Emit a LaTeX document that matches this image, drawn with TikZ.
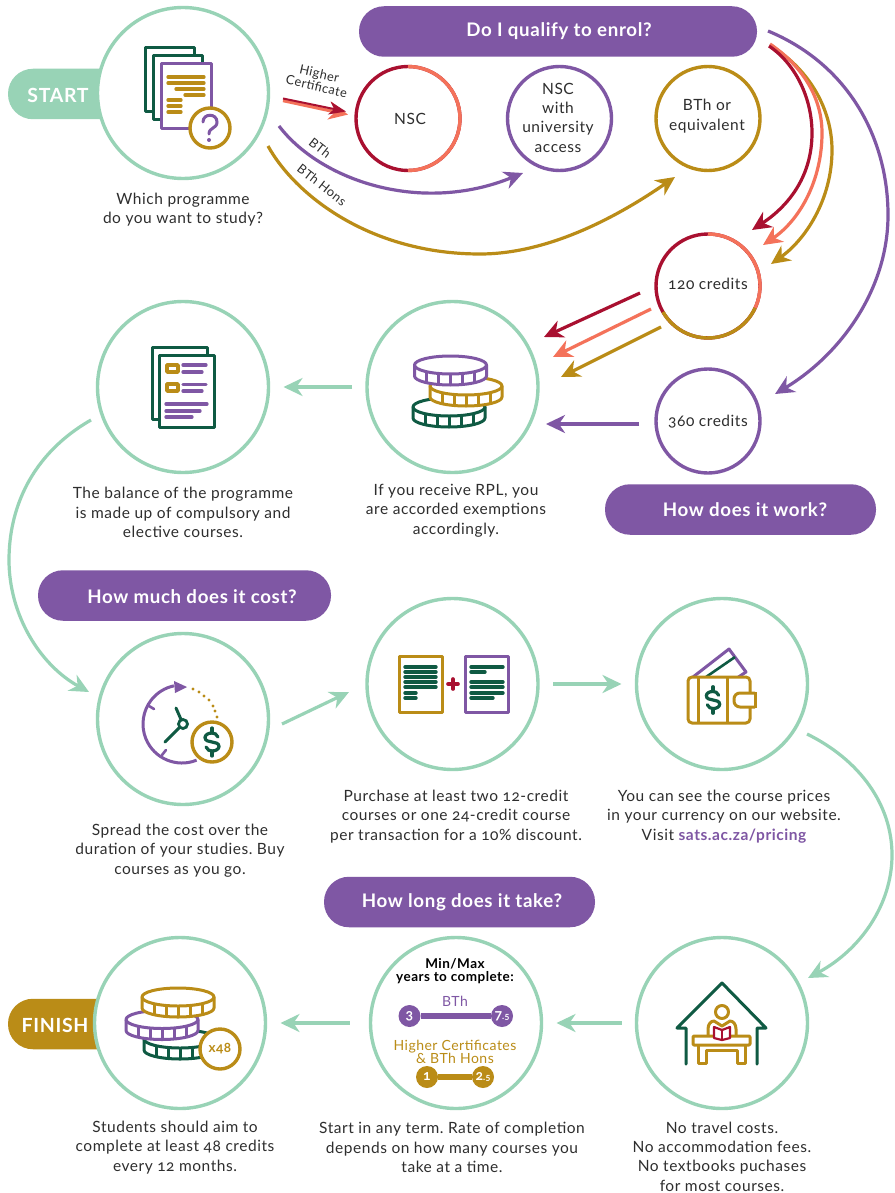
\documentclass[tikz,border=0pt]{standalone}
\usepackage{fontspec}
\setmainfont{Lato}[Numbers=OldStyle,LetterSpace=3.5]
\usetikzlibrary{arrows.meta,calc}
\definecolor{mint}{HTML}{98D3B6}
\definecolor{crimsonc}{HTML}{A91030}
\definecolor{coralc}{HTML}{F4725A}
\definecolor{goldc}{HTML}{BA8C17}
\definecolor{purplec}{HTML}{7F57A4}
\definecolor{greenc}{HTML}{0F5A43}
\definecolor{inkc}{HTML}{2E2E2E}
\newcommand{\fsz}[2]{\fontsize{#1}{#2}\selectfont}
\newcommand{\mycoin}[4]{% cx, cy, colour, rx
  \begin{scope}[shift={(#1,#2)},draw=#3,line width=3pt,line join=round]
    \filldraw[fill=white] (-#4,0) -- (-#4,11) arc[x radius=#4,y radius=9,start angle=180,end angle=0] -- (#4,0) arc[x radius=#4,y radius=9,start angle=0,end angle=-180] -- cycle;
    \draw (-#4,0) arc[x radius=#4,y radius=9,start angle=180,end angle=0];
    \foreach \tx/\ty in {-24/6.5,-12/8.5,0/9,12/8.5,24/6.5}{\draw (\tx,\ty) -- (\tx,\ty+11);}
  \end{scope}}
\newcommand{\mydollar}[3]{% cx, cy, scale
  \begin{scope}[shift={(#1,#2)},scale=#3,draw=greenc,line width=3.2pt,line cap=round]
    \draw (6,-5) .. controls (5,-8) and (2,-9) .. (0,-9) .. controls (-4,-9) and (-7,-7) .. (-7,-4.5) .. controls (-7,-1) and (-3,-0.5) .. (0,0) .. controls (3,0.5) and (7,1) .. (7,4.5) .. controls (7,7) and (4,9) .. (0,9) .. controls (-2,9) and (-5,8) .. (-6,5);
    \draw (0,-14) -- (0,-9);
    \draw (0,9) -- (0,14);
  \end{scope}}
\tikzset{
  bigc/.style={circle,draw=mint,fill=white,line width=3.4pt,minimum size=171pt,inner sep=0pt,outer sep=0pt},
  smallc/.style={circle,line width=3.4pt,minimum size=104pt,inner sep=0pt,outer sep=0pt},
  pill/.style={rectangle,rounded corners=25pt,inner sep=0pt,outer sep=0pt,minimum height=50.5pt},
  pilltext/.style={text=white,font=\bfseries\fsz{18.7}{22},inner sep=0pt},
  txt/.style={align=center,text=inkc,font=\frenchspacing\fsz{15.5}{19.3},inner sep=0pt},
  lab/.style={text=inkc,font=\fsz{12.8}{13},align=center,inner sep=0pt},
  arr/.style={line width=3.2pt,-{Stealth[length=19pt,width=18pt,inset=6pt]}},
  mintarr/.style={arr,draw=mint,color=mint,shorten <=15pt,shorten >=15pt},
  mintcurve/.style={arr,draw=mint,color=mint},
  thin line/.style={line width=3.3pt,line cap=round},
  ico/.style={line width=3pt,line join=round},
}
\begin{document}
\begin{tikzpicture}[x=1pt,y=-1pt]
\useasboundingbox[fill=white] (0,0) rectangle (894,1193);

% pills behind circles
\node[pill,fill=mint,minimum width=140pt] (pstart) at (78,94) {};
\node[pill,fill=goldc,minimum width=140pt] (pfinish) at (78,1024) {};
\node[pill,fill=purplec,minimum width=398pt] (pqual) at (558,31.5) {};
\node[pill,fill=purplec,minimum width=271pt] (pwork) at (740.5,509.5) {};
\node[pill,fill=purplec,minimum width=293pt] (pcost) at (184.5,595.5) {};
\node[pill,fill=purplec,minimum width=271pt] (ptime) at (459.5,902) {};
\node[pilltext,font=\bfseries\fsz{19.5}{22}] (tstart) at (58,95.5) {START};
\node[pilltext] (tqual) at (559,31.5) {Do I qualify to enrol?};
\node[pilltext] (twork) at (745,509.5) {How does it work?};
\node[pilltext] (tcost) at (192,596.5) {How much does it cost?};
\node[pilltext] (ttime) at (462,902.5) {How long does it take?};

% large circles
\node[bigc] (cstart) at (183,93) {};
\node[bigc] (cdocs) at (183,387) {};
\node[bigc] (ccoins) at (452.5,387) {};
\node[bigc] (cclock) at (183,719) {};
\node[bigc] (cplus) at (452.5,684) {};
\node[bigc] (cwallet) at (722,684) {};
\node[bigc] (cfinish) at (180,1023) {};
\node[bigc] (cminmax) at (456,1023) {};
\node[bigc] (chouse) at (722,1023) {};
\node[pilltext,font=\bfseries\fsz{19.5}{22}] (tfinish) at (55,1025.5) {FINISH};

% small circles
\node[smallc,draw=crimsonc] (cnsc) at (408,118.5) {};
\draw[coralc,line width=3.4pt] (cnsc.north) arc[start angle=-90,end angle=90,radius=52];
\node[smallc,draw=purplec] (cuni) at (559.5,118.5) {};
\node[smallc,draw=goldc] (cbth) at (708,118.5) {};
\node[smallc,draw=crimsonc] (c120) at (708,286) {};
\draw[coralc,line width=3.4pt] (c120.north) arc[start angle=-90,end angle=25,radius=52];
\draw[goldc,line width=3.4pt] (c120.-25) arc[start angle=25,end angle=150,radius=52];
\node[smallc,draw=purplec] (c360) at (708,421) {};
\node[txt] (tnsc) at (410,118.5) {NSC};
\node[txt] (tuni) at (558,117.5) {NSC\\with\\university\\access};
\node[txt] (tbth) at (707,116) {BTh or\\equivalent};
\node[txt] (t120) at (708,284) {120 credits};
\node[txt] (t360) at (708,422) {360 credits};

% free ends of connectors
\coordinate (hcA) at (283,99);
\coordinate (hcB) at (348,113);
\coordinate (bthA) at (279,126);
\coordinate (bthB) at (523,173);
\coordinate (honsA) at (268,146);
\coordinate (honsB) at (675,177);
\coordinate (qualP) at (768,31);
\coordinate (p360) at (775,394);
\coordinate (qualR) at (769,46);
\coordinate (qualC) at (770,44);
\coordinate (qualG) at (771,46);
\coordinate (r120) at (752,230);
\coordinate (c120tip) at (763,245);
\coordinate (g120) at (771,264);
\coordinate (rA) at (640,293);
\coordinate (rB) at (544,337);
\coordinate (cA) at (651,309);
\coordinate (cB) at (553,357);
\coordinate (gA) at (661,327);
\coordinate (gB) at (561,377);
\coordinate (pA) at (639,424);
\coordinate (pB) at (546,424);
\coordinate (docA) at (91,420);
\coordinate (clkB) at (89,692);
\coordinate (clkA) at (282,724);
\coordinate (plusB) at (349,692);
\coordinate (walA) at (807,734);
\coordinate (houB) at (808,978);

% connectors
\draw[arr,draw=coralc,color=coralc] ($(hcA)+(0,1.6)$) -- ($(hcB)+(0,1.6)$);
\draw[arr,draw=crimsonc,color=crimsonc,-{Stealth[length=17pt,width=13pt,inset=5pt]},line width=2pt] ($(hcA)+(0,-0.5)$) -- ($(hcB)+(-2,-1.5)$);
\draw[arr,draw=purplec,color=purplec] (bthA) .. controls (320,180) and (420,215) .. (bthB);
\draw[arr,draw=goldc,color=goldc] (honsA) .. controls (295,195) and (370,254) .. (480,254) .. controls (550,254) and (620,215) .. (honsB);
\draw[arr,draw=purplec,color=purplec] (qualP) .. controls (850,65) and (888,140) .. (888,215) .. controls (888,290) and (840,355) .. (p360);
\draw[arr,draw=goldc,color=goldc] (qualG) .. controls (810,70) and (832,110) .. (832,150) .. controls (832,200) and (805,240) .. (g120);
\draw[arr,draw=coralc,color=coralc] (qualC) .. controls (805,68) and (822,100) .. (822,133) .. controls (822,180) and (800,220) .. (c120tip);
\draw[arr,draw=crimsonc,color=crimsonc] (qualR) .. controls (797,65) and (812,100) .. (812,133) .. controls (812,175) and (790,205) .. (r120);
\draw[arr,draw=crimsonc,color=crimsonc] (rA) -- (rB);
\draw[arr,draw=coralc,color=coralc] (cA) -- (cB);
\draw[arr,draw=goldc,color=goldc] (gA) -- (gB);
\draw[arr,draw=purplec,color=purplec] (pA) -- (pB);
\draw[mintarr] (ccoins) -- (cdocs);
\draw[mintcurve] (docA) .. controls (30,455) and (9,510) .. (9,560) .. controls (9,615) and (40,665) .. (clkB);
\draw[mintcurve] (clkA) -- (plusB);
\draw[mintarr] (cplus) -- (cwallet);
\draw[mintcurve] (walA) .. controls (860,760) and (892,805) .. (892,855) .. controls (892,905) and (860,950) .. (houB);
\draw[mintarr] (chouse) -- (cminmax);
\draw[mintarr,shorten <=21pt] (cminmax) -- (cfinish);

% connector labels
\node[lab,rotate=-13] (lhc) at (318,80) {Higher\\Certificate};
\node[lab,rotate=-38] (lbth) at (320,148) {BTh};
\node[lab,rotate=-38] (lhons) at (322,185) {BTh Hons};

% captions
\node[txt] (t1) at (183,209.5) {Which programme\\do you want to study?};
\node[txt] (t2) at (183,512.5) {The balance of the programme\\is made up of compulsory and\\elective courses.};
\node[txt] (t3) at (456,510.5) {If you receive RPL, you\\are accorded exemptions\\accordingly.};
\node[txt] (t4) at (180,850.5) {Spread the cost over the\\duration of your studies. Buy\\courses as you go.};
\node[txt] (t5) at (456,816.5) {Purchase at least two 12-credit\\courses or one 24-credit course\\per transaction for a 10\% discount.};
\node[txt] (t6) at (724,816.5) {You can see the course prices\\in your currency on our website.\\Visit \textcolor{purplec}{\bfseries sats.ac.za/pricing}};
\node[txt] (t7) at (175,1147.5) {Students should aim to\\complete at least 48 credits\\every 12 months.};
\node[txt] (t8) at (452,1147.5) {Start in any term. Rate of completion\\depends on how many courses you\\take at a time.};
\node[txt] (t9) at (722,1156.5) {No travel costs.\\No accommodation fees.\\No textbooks puchases\\for most courses.};

% ---- icon: programme documents
\draw[ico,draw=greenc,fill=white] (145,48) rectangle (194,112);
\draw[ico,draw=greenc,fill=white] (153,56) rectangle (202,120);
\draw[ico,draw=purplec,fill=white] (161,64) rectangle (211,129);
\foreach \xa/\xb/\yy in {168/204/77,168/204/83,176/204/89,185/204/95,168/181/100,168/181/106,168/181/112}{
  \draw[thin line,goldc] (\xa,\yy) -- (\xb,\yy);}
\draw[draw=goldc,fill=white,line width=3.4pt] (210,128) circle[radius=20];
\draw[purplec,line width=3pt,line cap=round] (203,122) .. controls (203,113) and (217,113) .. (217,122) .. controls (217,129) and (209,127) .. (209,134);
\fill[purplec] (209,140) circle[radius=2];

% ---- icon: balance documents
\draw[ico,draw=greenc,fill=white] (152,347) rectangle (207,419);
\draw[ico,draw=greenc,fill=white] (159,355) rectangle (214,427);
\draw[ico,draw=goldc,fill=white,line width=3.4pt] (167,365) rectangle (178,372);
\draw[ico,draw=goldc,fill=white,line width=3.4pt] (167,384) rectangle (178,391);
\foreach \xa/\xb/\yy in {183/206/365,183/202/372,183/206/384.5,183/202/391,166/207/404,166/200/411,166/192/417}{
  \draw[thin line,purplec] (\xa,\yy) -- (\xb,\yy);}

% ---- icon: stacked coins
\mycoin{449}{407}{greenc}{36}
\mycoin{466}{386}{goldc}{36}
\mycoin{450.5}{365}{purplec}{36}

% ---- icon: clock and coin
\draw[purplec,line width=3pt] (182,724) ++(68:39) arc[start angle=68,end angle=258,radius=39];
\fill[purplec] (174,681) -- (187,687) -- (175,693) -- cycle;
\draw[purplec,line width=2.6pt,line cap=round] (149,706) -- (154,709);
\draw[purplec,line width=2.6pt,line cap=round] (162,755) -- (166,750);
\foreach \dx/\dy in {193/689,199/692,204/696,209/700,213/706,215/711,217/717}{\fill[goldc] (\dx,\dy) circle[radius=1.7];}
\draw[greenc,line width=3pt,line cap=round] (176,708) -- (183,724) -- (165,742);
\draw[greenc,fill=white,line width=2.8pt] (183,724) circle[radius=4.5];
\draw[draw=goldc,fill=white,line width=3.4pt] (212,742) circle[radius=20];
\mydollar{212}{742}{1}

% ---- icon: two course sheets
\draw[ico,draw=goldc] (399,656) rectangle (442,712);
\draw[ico,draw=purplec] (465,656) rectangle (508,712);
\foreach \xa/\xb/\yy in {405/436/667,405/436/672,405/436/677,405/436/682,405/436/687,405/416/693,405/416/698,
  471/503/667,471/485/672,471/503/682,471/503/687,471/503/693,471/493/698}{
  \draw[greenc,line width=3.4pt,line cap=round] (\xa,\yy) -- (\xb,\yy);}
\draw[crimsonc,line width=3.6pt,line cap=round] (448,684) -- (458,684);
\draw[crimsonc,line width=3.6pt,line cap=round] (453,679) -- (453,689);

% ---- icon: wallet
\draw[ico,draw=purplec] (693,677) -- (729,649) -- (746,672) -- (737,678);
\draw[greenc,line width=2.6pt] (706,677) -- (735,657);
\draw[ico,draw=goldc,fill=white,rounded corners=4pt] (688,677) rectangle (750,723);
\draw[ico,draw=goldc] (698,677) -- (698,723);
\draw[ico,draw=goldc] (727,677) -- (727,723);
\draw[ico,draw=goldc,fill=white,rounded corners=6pt] (755,693) -- (734,693) -- (734,707) -- (755,707);
\draw[ico,draw=goldc] (755,692) -- (755,708);
\mydollar{713}{700}{0.95}

% ---- icon: finish coins
\mycoin{180}{1039}{greenc}{36}
\mycoin{162}{1019.5}{purplec}{36}
\mycoin{178}{997}{goldc}{36}
\node[circle,draw=goldc,fill=white,line width=3.4pt,minimum size=40pt,inner sep=0pt,text=goldc,font=\bfseries\fsz{13.5}{14}] (x48) at (220,1049) {x48};

% ---- min/max panel
\node[inner sep=0pt,align=center,font=\bfseries\fsz{13.5}{13.5},text=black] (tmm) at (455,971) {Min/Max\\years to complete:};
\node[inner sep=0pt,font=\fsz{14}{14},text=purplec] (tb) at (455,1001) {BTh};
\node[circle,fill=purplec,minimum size=22pt,inner sep=0pt,text=white,font=\bfseries\fsz{14}{14}] (b1) at (409.5,1016) {3};
\node[circle,fill=purplec,minimum size=22pt,inner sep=0pt,text=white,font=\bfseries\fsz{14}{14}] (b2) at (502,1016) {7\fsz{9}{10}.5};
\draw[purplec,line width=5.5pt] (b1) -- (b2);
\node[inner sep=0pt,align=center,font=\fsz{14}{13.5},text=goldc] (th) at (455,1052) {Higher Certificates\\\& BTh Hons};
\node[circle,fill=goldc,minimum size=22pt,inner sep=0pt,text=white,font=\bfseries\fsz{14}{14}] (h1) at (427,1077) {1};
\node[circle,fill=goldc,minimum size=22pt,inner sep=0pt,text=white,font=\bfseries\fsz{14}{14}] (h2) at (483,1077) {2\fsz{9}{10}.5};
\draw[goldc,line width=5.5pt] (h1) -- (h2);

% ---- icon: house and desk
\draw[ico,draw=greenc,line cap=round] (686,1064) -- (686,1028) -- (677,1028) -- (722,983) -- (766,1028) -- (757,1028) -- (757,1064);
\draw[ico,draw=goldc] (722,1012) circle[radius=6.5];
\draw[ico,draw=goldc] (708,1036) -- (708,1029) .. controls (708,1024) and (711,1021) .. (714,1021) -- (722,1026) -- (730,1021) .. controls (733,1021) and (736,1024) .. (736,1029) -- (736,1036);
\draw[ico,draw=goldc,rounded corners=1pt] (693,1036) rectangle (750,1045);
\draw[ico,draw=goldc] (698,1045) -- (698,1063) -- (706,1063) -- (706,1050) -- (737,1050) -- (737,1063) -- (745,1063) -- (745,1045);
\draw[crimsonc,fill=white,line width=2.2pt,line join=round] (714,1027) -- (722,1030) -- (730,1027) -- (730,1038) -- (722,1040) -- (714,1038) -- cycle;
\draw[crimsonc,line width=2.2pt] (722,1030) -- (722,1040);
\end{tikzpicture}
\end{document}
